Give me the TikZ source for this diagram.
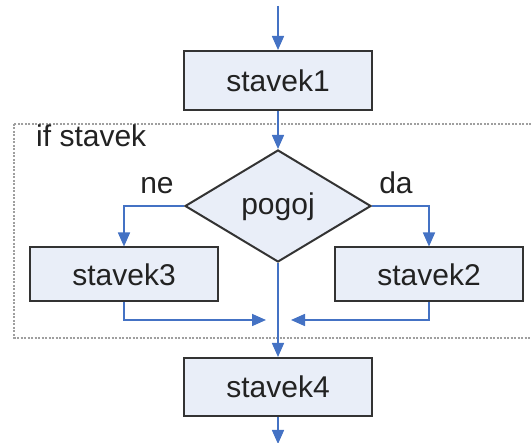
\documentclass[tikz,border=0pt]{standalone}
\usepackage{fontspec}
\setmainfont{Liberation Sans}
\usetikzlibrary{shapes.geometric,arrows.meta}
\definecolor{boxfill}{HTML}{E9EEF8}
\definecolor{boxline}{HTML}{333333}
\definecolor{arr}{HTML}{4472C4}
\definecolor{txt}{HTML}{222222}
\tikzset{
  stm/.style={draw=boxline, line width=2pt, fill=boxfill, rectangle, minimum width=188pt, inner sep=0pt, text=txt, font=\fontsize{30}{36}\selectfont},
  cond/.style={draw=boxline, line width=2pt, fill=boxfill, diamond, minimum width=186pt, minimum height=112pt, inner sep=0pt},
  flow/.style={draw=arr, line width=1.6pt, -{Triangle[length=14pt,width=12pt]}},
  flowline/.style={draw=arr, line width=1.6pt},
  lbl/.style={text=txt, font=\fontsize{30}{36}\selectfont, inner sep=0pt},
  region/.style={draw=gray!75, line width=1.2pt, dash pattern=on 2pt off 1.5pt}
}
\begin{document}
\begin{tikzpicture}[x=1pt,y=-1pt]
\useasboundingbox (0,0) rectangle (531,443);
\clip (0,0) rectangle (531,443);
\fill[white] (0,0) rectangle (531,443);
\draw[region] (14,124) rectangle (545,338);
\node[lbl, anchor=base west] (iflbl) at (36,147) {if stavek};
\node[stm, minimum height=59pt] (s1) at (278,80.5) {stavek1};
\node[cond] (d) at (278,206) {};
\node[lbl, anchor=base] (dl) at (278,215) {pogoj};
\node[stm, minimum height=54pt] (s3) at (124,274.5) {stavek3};
\node[stm, minimum height=54pt] (s2) at (429,274.5) {stavek2};
\node[stm, minimum height=58pt] (s4) at (278,387) {stavek4};
\node[lbl, anchor=base] (ne) at (157,194) {ne};
\node[lbl, anchor=base] (da) at (396,194) {da};
\coordinate (top) at (278,6);
\coordinate (bot) at (278,444);
\coordinate (mL) at (266,320);
\coordinate (mR) at (291,320);
\draw[flow] (top) -- (s1.north);
\draw[flow] (s1.south) -- (d.north);
\draw[flow] (d.west) -| (s3.north);
\draw[flow] (d.east) -| (s2.north);
\draw[flow] (s3.south) |- (mL);
\draw[flow] (s2.south) |- (mR);
\draw[flow] (d.south) -- (s4.north);
\draw[flow] (s4.south) -- (bot);
\end{tikzpicture}
\end{document}
